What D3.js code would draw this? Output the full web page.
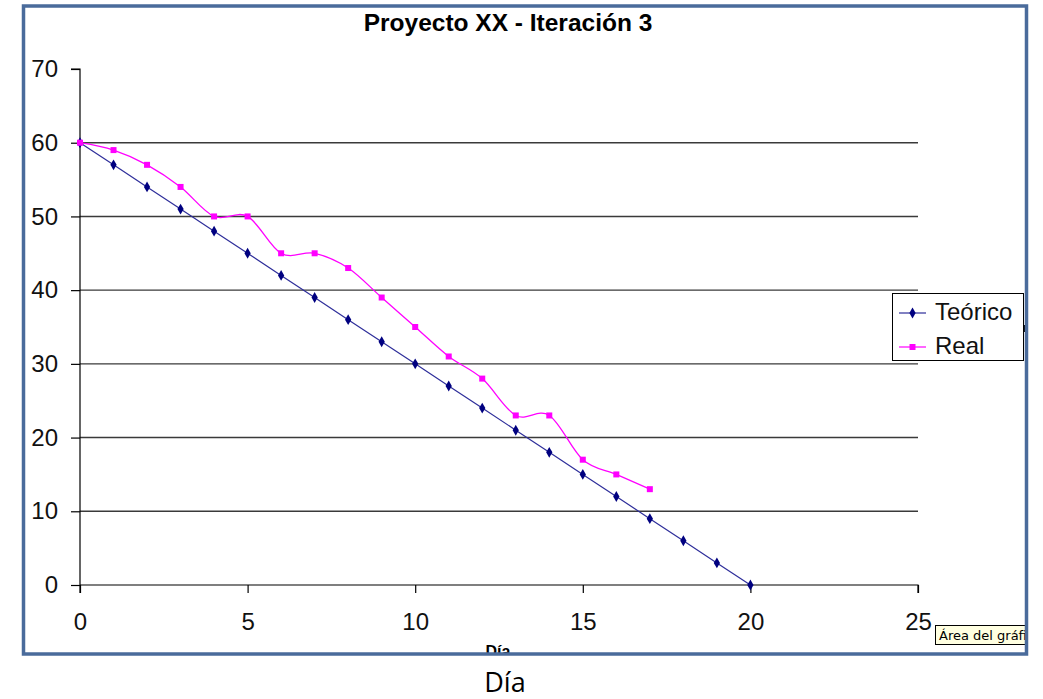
<!DOCTYPE html>
<html>
<head>
<meta charset="utf-8">
<script src="https://cdn.jsdelivr.net/npm/d3@7"></script>
<style>
  html, body { margin: 0; padding: 0; background: #fff; }
  svg { display: block; }
</style>
</head>
<body>
<svg id="chart" width="1043" height="699"></svg>
<script>
// Burndown data: remaining work per day
const days = [0,1,2,3,4,5,6,7,8,9,10,11,12,13,14,15,16,17,18,19,20];
const teorico = [60,57,54,51,48,45,42,39,36,33,30,27,24,21,18,15,12,9,6,3,0];
const realDays = [0,1,2,3,4,5,6,7,8,9,10,11,12,13,14,15,16,17];
const real = [60,59,57,54,50,50,45,45,43,39,35,31,28,23,23,17,15,13];
const xTicks = [0,5,10,15,20,25];
const yTicks = [0,10,20,30,40,50,60,70];
const seriesNames = ["Teórico","Real"];

const svg = d3.select("#chart");
const font = "Arial, 'Liberation Sans', sans-serif";

const x = d3.scaleLinear().domain([0,25]).range([80,918]);
const y = d3.scaleLinear().domain([0,70]).range([585,69]);

// chart area clip (inner frame)
svg.append("defs").append("clipPath").attr("id","frame")
  .append("rect").attr("x",24).attr("y",7).attr("width",1003).attr("height",646);

const inner = svg.append("g").attr("clip-path","url(#frame)");

// title
inner.append("text").attr("x",508).attr("y",31)
  .attr("text-anchor","middle").attr("font-family",font)
  .attr("font-weight","bold").attr("font-size",24.5).text("Proyecto XX - Iteración 3");

// gridlines
inner.append("g").selectAll("line").data(yTicks.filter(d => d > 0 && d < 70)).join("line")
  .attr("x1",x(0)).attr("x2",x(25))
  .attr("y1",d => y(d)).attr("y2",d => y(d))
  .attr("stroke","#3a3a3a").attr("stroke-width",1.4);

// axes
const yAxis = d3.axisLeft(y).tickValues(yTicks).tickSize(9).tickPadding(13).tickFormat(d3.format("d"));
const xAxis = d3.axisBottom(x).tickValues(xTicks).tickSize(8).tickPadding(20).tickFormat(d3.format("d"));

const gy = inner.append("g").attr("transform",`translate(${x(0)},0)`).call(yAxis);
const gx = inner.append("g").attr("transform",`translate(0,${y(0)})`).call(xAxis);
[gx, gy].forEach(g => {
  g.select(".domain").attr("stroke","#000").attr("stroke-width",1.2);
  g.selectAll(".tick line").attr("stroke","#000").attr("stroke-width",1.2);
  g.selectAll(".tick text").attr("font-family",font).attr("font-size",24).attr("fill","#111");
});
gy.select(".domain").attr("d",`M-9,${y(70)}H0V${y(0)}`);
gx.select(".domain").attr("d",`M${x(0)},0V8M${x(0)},0H${x(25)}V8`);

// series data as [day, value]
const tData = days.map((d,i) => [d, teorico[i]]);
const rData = realDays.map((d,i) => [d, real[i]]);

// Teórico: straight line
inner.append("path").datum(tData)
  .attr("fill","none").attr("stroke","#2e2e9a").attr("stroke-width",1.2)
  .attr("d", d3.line().x(d => x(d[0])).y(d => y(d[1])));

// Real: smoothed line
inner.append("path").datum(rData)
  .attr("fill","none").attr("stroke","#ff00ff").attr("stroke-width",1.3)
  .attr("d", d3.line().curve(d3.curveCardinal.tension(0)).x(d => x(d[0])).y(d => y(d[1])));

const diamond = d3.symbol().type(d3.symbolDiamond).size(34);
inner.append("g").selectAll("path").data(tData).join("path")
  .attr("transform", d => `translate(${x(d[0])},${y(d[1])})`)
  .attr("d", diamond).attr("fill","#000080");

inner.append("g").selectAll("rect").data(rData).join("rect")
  .attr("x", d => x(d[0]) - 3).attr("y", d => y(d[1]) - 3)
  .attr("width",6).attr("height",6).attr("fill","#ff00ff");

// legend
const lg = inner.append("g");
lg.append("rect").attr("x",892.5).attr("y",293.5).attr("width",131).attr("height",67)
  .attr("fill","#fff").attr("stroke","#000").attr("stroke-width",1);
const colors = ["#2e2e9a","#ff00ff"];
seriesNames.forEach((n,i) => {
  const cy = 313 + i*34;
  lg.append("line").attr("x1",899).attr("x2",926).attr("y1",cy).attr("y2",cy)
    .attr("stroke",colors[i]).attr("stroke-width",1.2);
  if (i === 0) {
    lg.append("path").attr("transform",`translate(912.5,${cy})`).attr("d",diamond).attr("fill","#000080");
  } else {
    lg.append("rect").attr("x",909.5).attr("y",cy-3).attr("width",6).attr("height",6).attr("fill","#ff00ff");
  }
  lg.append("text").attr("x",935).attr("y",cy+7).attr("font-family",font)
    .attr("font-size",24).attr("fill","#111").text(n);
});

// selection handle at right edge
inner.append("rect").attr("x",1023).attr("y",325).attr("width",5).attr("height",7).attr("fill","#000");

// axis title partially hidden under the frame
inner.append("text").attr("x",498).attr("y",657).attr("text-anchor","middle")
  .attr("font-family",font).attr("font-weight","bold").attr("font-size",16).text("Día");

// hover tooltip
const tip = inner.append("g");
tip.append("rect").attr("x",935.5).attr("y",625.5).attr("width",100).attr("height",19)
  .attr("fill","#ffffe1").attr("stroke","#000").attr("stroke-width",1);
tip.append("text").attr("x",939).attr("y",640).attr("font-family","Tahoma, 'DejaVu Sans', sans-serif")
  .attr("font-size",13).attr("fill","#000").text("Área del gráfico");

// outer frame
svg.append("rect").attr("x",23.5).attr("y",6).attr("width",1003).attr("height",648)
  .attr("fill","none").attr("stroke","#4a6b9b").attr("stroke-width",3.5);

// caption below the chart
svg.append("text").attr("x",505).attr("y",692).attr("text-anchor","middle")
  .attr("font-family","'Open Sans', 'Noto Sans', sans-serif").attr("font-size",27).attr("fill","#000").text("Día");
</script>
</body>
</html>
